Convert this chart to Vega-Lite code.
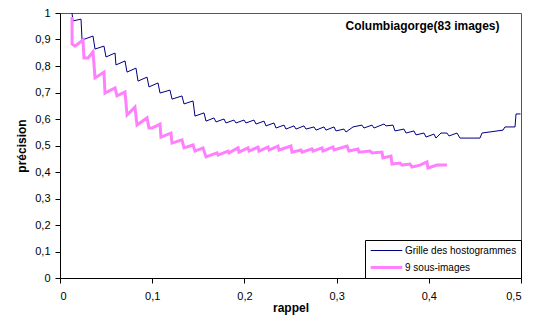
{
  "$schema": "https://vega.github.io/schema/vega-lite/v6.json",
  "width": 461,
  "height": 265,
  "autosize": {"type": "none"},
  "padding": {"left": 60, "top": 13, "right": 23, "bottom": 45},
  "background": "white",
  "title": {
    "text": "Columbiagorge(83 images)",
    "orient": "top",
    "anchor": "end",
    "offset": -26,
    "dx": -22,
    "font": "Liberation Sans",
    "fontSize": 12,
    "fontWeight": "bold",
    "color": "black"
  },
  "config": {
    "view": {"stroke": "#555555", "strokeWidth": 1},
    "font": "Liberation Sans"
  },
  "data": {
    "values": [
      {"serie": "Grille des hostogrammes", "rappel": 0.0130, "precision": 1.000},
      {"serie": "Grille des hostogrammes", "rappel": 0.0141, "precision": 0.970},
      {"serie": "Grille des hostogrammes", "rappel": 0.0228, "precision": 0.977},
      {"serie": "Grille des hostogrammes", "rappel": 0.0239, "precision": 0.898},
      {"serie": "Grille des hostogrammes", "rappel": 0.0358, "precision": 0.913},
      {"serie": "Grille des hostogrammes", "rappel": 0.0380, "precision": 0.864},
      {"serie": "Grille des hostogrammes", "rappel": 0.0477, "precision": 0.875},
      {"serie": "Grille des hostogrammes", "rappel": 0.0499, "precision": 0.834},
      {"serie": "Grille des hostogrammes", "rappel": 0.0597, "precision": 0.849},
      {"serie": "Grille des hostogrammes", "rappel": 0.0607, "precision": 0.804},
      {"serie": "Grille des hostogrammes", "rappel": 0.0705, "precision": 0.819},
      {"serie": "Grille des hostogrammes", "rappel": 0.0727, "precision": 0.777},
      {"serie": "Grille des hostogrammes", "rappel": 0.0824, "precision": 0.792},
      {"serie": "Grille des hostogrammes", "rappel": 0.0846, "precision": 0.743},
      {"serie": "Grille des hostogrammes", "rappel": 0.0944, "precision": 0.758},
      {"serie": "Grille des hostogrammes", "rappel": 0.0965, "precision": 0.721},
      {"serie": "Grille des hostogrammes", "rappel": 0.1063, "precision": 0.736},
      {"serie": "Grille des hostogrammes", "rappel": 0.1085, "precision": 0.698},
      {"serie": "Grille des hostogrammes", "rappel": 0.1193, "precision": 0.709},
      {"serie": "Grille des hostogrammes", "rappel": 0.1215, "precision": 0.675},
      {"serie": "Grille des hostogrammes", "rappel": 0.1323, "precision": 0.687},
      {"serie": "Grille des hostogrammes", "rappel": 0.1345, "precision": 0.657},
      {"serie": "Grille des hostogrammes", "rappel": 0.1443, "precision": 0.668},
      {"serie": "Grille des hostogrammes", "rappel": 0.1464, "precision": 0.611},
      {"serie": "Grille des hostogrammes", "rappel": 0.1562, "precision": 0.623},
      {"serie": "Grille des hostogrammes", "rappel": 0.1584, "precision": 0.592},
      {"serie": "Grille des hostogrammes", "rappel": 0.1670, "precision": 0.604},
      {"serie": "Grille des hostogrammes", "rappel": 0.1692, "precision": 0.589},
      {"serie": "Grille des hostogrammes", "rappel": 0.1779, "precision": 0.600},
      {"serie": "Grille des hostogrammes", "rappel": 0.1800, "precision": 0.585},
      {"serie": "Grille des hostogrammes", "rappel": 0.1887, "precision": 0.596},
      {"serie": "Grille des hostogrammes", "rappel": 0.1909, "precision": 0.585},
      {"serie": "Grille des hostogrammes", "rappel": 0.1996, "precision": 0.596},
      {"serie": "Grille des hostogrammes", "rappel": 0.2017, "precision": 0.585},
      {"serie": "Grille des hostogrammes", "rappel": 0.2104, "precision": 0.596},
      {"serie": "Grille des hostogrammes", "rappel": 0.2126, "precision": 0.581},
      {"serie": "Grille des hostogrammes", "rappel": 0.2213, "precision": 0.592},
      {"serie": "Grille des hostogrammes", "rappel": 0.2234, "precision": 0.574},
      {"serie": "Grille des hostogrammes", "rappel": 0.2321, "precision": 0.585},
      {"serie": "Grille des hostogrammes", "rappel": 0.2343, "precision": 0.566},
      {"serie": "Grille des hostogrammes", "rappel": 0.2430, "precision": 0.577},
      {"serie": "Grille des hostogrammes", "rappel": 0.2451, "precision": 0.562},
      {"serie": "Grille des hostogrammes", "rappel": 0.2538, "precision": 0.574},
      {"serie": "Grille des hostogrammes", "rappel": 0.2560, "precision": 0.562},
      {"serie": "Grille des hostogrammes", "rappel": 0.2646, "precision": 0.574},
      {"serie": "Grille des hostogrammes", "rappel": 0.2668, "precision": 0.562},
      {"serie": "Grille des hostogrammes", "rappel": 0.2755, "precision": 0.570},
      {"serie": "Grille des hostogrammes", "rappel": 0.2777, "precision": 0.558},
      {"serie": "Grille des hostogrammes", "rappel": 0.2863, "precision": 0.570},
      {"serie": "Grille des hostogrammes", "rappel": 0.2885, "precision": 0.558},
      {"serie": "Grille des hostogrammes", "rappel": 0.2972, "precision": 0.570},
      {"serie": "Grille des hostogrammes", "rappel": 0.2993, "precision": 0.555},
      {"serie": "Grille des hostogrammes", "rappel": 0.3080, "precision": 0.562},
      {"serie": "Grille des hostogrammes", "rappel": 0.3102, "precision": 0.551},
      {"serie": "Grille des hostogrammes", "rappel": 0.3178, "precision": 0.570},
      {"serie": "Grille des hostogrammes", "rappel": 0.3275, "precision": 0.577},
      {"serie": "Grille des hostogrammes", "rappel": 0.3297, "precision": 0.566},
      {"serie": "Grille des hostogrammes", "rappel": 0.3384, "precision": 0.577},
      {"serie": "Grille des hostogrammes", "rappel": 0.3406, "precision": 0.566},
      {"serie": "Grille des hostogrammes", "rappel": 0.3514, "precision": 0.581},
      {"serie": "Grille des hostogrammes", "rappel": 0.3536, "precision": 0.574},
      {"serie": "Grille des hostogrammes", "rappel": 0.3612, "precision": 0.577},
      {"serie": "Grille des hostogrammes", "rappel": 0.3633, "precision": 0.555},
      {"serie": "Grille des hostogrammes", "rappel": 0.3731, "precision": 0.562},
      {"serie": "Grille des hostogrammes", "rappel": 0.3753, "precision": 0.547},
      {"serie": "Grille des hostogrammes", "rappel": 0.3839, "precision": 0.555},
      {"serie": "Grille des hostogrammes", "rappel": 0.3861, "precision": 0.540},
      {"serie": "Grille des hostogrammes", "rappel": 0.3948, "precision": 0.547},
      {"serie": "Grille des hostogrammes", "rappel": 0.3970, "precision": 0.532},
      {"serie": "Grille des hostogrammes", "rappel": 0.4056, "precision": 0.543},
      {"serie": "Grille des hostogrammes", "rappel": 0.4078, "precision": 0.528},
      {"serie": "Grille des hostogrammes", "rappel": 0.4132, "precision": 0.547},
      {"serie": "Grille des hostogrammes", "rappel": 0.4197, "precision": 0.547},
      {"serie": "Grille des hostogrammes", "rappel": 0.4219, "precision": 0.536},
      {"serie": "Grille des hostogrammes", "rappel": 0.4306, "precision": 0.547},
      {"serie": "Grille des hostogrammes", "rappel": 0.4338, "precision": 0.528},
      {"serie": "Grille des hostogrammes", "rappel": 0.4555, "precision": 0.528},
      {"serie": "Grille des hostogrammes", "rappel": 0.4577, "precision": 0.547},
      {"serie": "Grille des hostogrammes", "rappel": 0.4805, "precision": 0.558},
      {"serie": "Grille des hostogrammes", "rappel": 0.4826, "precision": 0.570},
      {"serie": "Grille des hostogrammes", "rappel": 0.4935, "precision": 0.570},
      {"serie": "Grille des hostogrammes", "rappel": 0.4946, "precision": 0.619},
      {"serie": "Grille des hostogrammes", "rappel": 0.4995, "precision": 0.619},
      {"serie": "9 sous-images", "rappel": 0.0130, "precision": 0.985},
      {"serie": "9 sous-images", "rappel": 0.0131, "precision": 0.883},
      {"serie": "9 sous-images", "rappel": 0.0163, "precision": 0.875},
      {"serie": "9 sous-images", "rappel": 0.0249, "precision": 0.898},
      {"serie": "9 sous-images", "rappel": 0.0260, "precision": 0.830},
      {"serie": "9 sous-images", "rappel": 0.0304, "precision": 0.830},
      {"serie": "9 sous-images", "rappel": 0.0358, "precision": 0.853},
      {"serie": "9 sous-images", "rappel": 0.0380, "precision": 0.755},
      {"serie": "9 sous-images", "rappel": 0.0477, "precision": 0.777},
      {"serie": "9 sous-images", "rappel": 0.0488, "precision": 0.698},
      {"serie": "9 sous-images", "rappel": 0.0597, "precision": 0.717},
      {"serie": "9 sous-images", "rappel": 0.0618, "precision": 0.687},
      {"serie": "9 sous-images", "rappel": 0.0705, "precision": 0.702},
      {"serie": "9 sous-images", "rappel": 0.0727, "precision": 0.615},
      {"serie": "9 sous-images", "rappel": 0.0813, "precision": 0.645},
      {"serie": "9 sous-images", "rappel": 0.0835, "precision": 0.577},
      {"serie": "9 sous-images", "rappel": 0.0944, "precision": 0.604},
      {"serie": "9 sous-images", "rappel": 0.0965, "precision": 0.566},
      {"serie": "9 sous-images", "rappel": 0.0998, "precision": 0.566},
      {"serie": "9 sous-images", "rappel": 0.1085, "precision": 0.581},
      {"serie": "9 sous-images", "rappel": 0.1095, "precision": 0.532},
      {"serie": "9 sous-images", "rappel": 0.1204, "precision": 0.547},
      {"serie": "9 sous-images", "rappel": 0.1215, "precision": 0.509},
      {"serie": "9 sous-images", "rappel": 0.1323, "precision": 0.521},
      {"serie": "9 sous-images", "rappel": 0.1345, "precision": 0.491},
      {"serie": "9 sous-images", "rappel": 0.1443, "precision": 0.502},
      {"serie": "9 sous-images", "rappel": 0.1464, "precision": 0.479},
      {"serie": "9 sous-images", "rappel": 0.1551, "precision": 0.491},
      {"serie": "9 sous-images", "rappel": 0.1584, "precision": 0.457},
      {"serie": "9 sous-images", "rappel": 0.1703, "precision": 0.472},
      {"serie": "9 sous-images", "rappel": 0.1714, "precision": 0.464},
      {"serie": "9 sous-images", "rappel": 0.1822, "precision": 0.479},
      {"serie": "9 sous-images", "rappel": 0.1833, "precision": 0.472},
      {"serie": "9 sous-images", "rappel": 0.1931, "precision": 0.491},
      {"serie": "9 sous-images", "rappel": 0.1941, "precision": 0.475},
      {"serie": "9 sous-images", "rappel": 0.2039, "precision": 0.491},
      {"serie": "9 sous-images", "rappel": 0.2050, "precision": 0.479},
      {"serie": "9 sous-images", "rappel": 0.2148, "precision": 0.494},
      {"serie": "9 sous-images", "rappel": 0.2158, "precision": 0.479},
      {"serie": "9 sous-images", "rappel": 0.2256, "precision": 0.494},
      {"serie": "9 sous-images", "rappel": 0.2267, "precision": 0.483},
      {"serie": "9 sous-images", "rappel": 0.2364, "precision": 0.498},
      {"serie": "9 sous-images", "rappel": 0.2375, "precision": 0.483},
      {"serie": "9 sous-images", "rappel": 0.2505, "precision": 0.498},
      {"serie": "9 sous-images", "rappel": 0.2516, "precision": 0.475},
      {"serie": "9 sous-images", "rappel": 0.2614, "precision": 0.483},
      {"serie": "9 sous-images", "rappel": 0.2625, "precision": 0.475},
      {"serie": "9 sous-images", "rappel": 0.2733, "precision": 0.487},
      {"serie": "9 sous-images", "rappel": 0.2744, "precision": 0.479},
      {"serie": "9 sous-images", "rappel": 0.2842, "precision": 0.491},
      {"serie": "9 sous-images", "rappel": 0.2852, "precision": 0.479},
      {"serie": "9 sous-images", "rappel": 0.2961, "precision": 0.494},
      {"serie": "9 sous-images", "rappel": 0.2972, "precision": 0.483},
      {"serie": "9 sous-images", "rappel": 0.3113, "precision": 0.498},
      {"serie": "9 sous-images", "rappel": 0.3134, "precision": 0.479},
      {"serie": "9 sous-images", "rappel": 0.3232, "precision": 0.487},
      {"serie": "9 sous-images", "rappel": 0.3243, "precision": 0.475},
      {"serie": "9 sous-images", "rappel": 0.3362, "precision": 0.479},
      {"serie": "9 sous-images", "rappel": 0.3384, "precision": 0.472},
      {"serie": "9 sous-images", "rappel": 0.3492, "precision": 0.475},
      {"serie": "9 sous-images", "rappel": 0.3503, "precision": 0.453},
      {"serie": "9 sous-images", "rappel": 0.3590, "precision": 0.460},
      {"serie": "9 sous-images", "rappel": 0.3601, "precision": 0.430},
      {"serie": "9 sous-images", "rappel": 0.3688, "precision": 0.434},
      {"serie": "9 sous-images", "rappel": 0.3709, "precision": 0.426},
      {"serie": "9 sous-images", "rappel": 0.3796, "precision": 0.430},
      {"serie": "9 sous-images", "rappel": 0.3818, "precision": 0.419},
      {"serie": "9 sous-images", "rappel": 0.3905, "precision": 0.426},
      {"serie": "9 sous-images", "rappel": 0.3980, "precision": 0.438},
      {"serie": "9 sous-images", "rappel": 0.3991, "precision": 0.415},
      {"serie": "9 sous-images", "rappel": 0.4089, "precision": 0.426},
      {"serie": "9 sous-images", "rappel": 0.4197, "precision": 0.426}
    ]
  },
  "mark": {"type": "line", "clip": true},
  "encoding": {
    "x": {
      "field": "rappel",
      "type": "quantitative",
      "scale": {"domain": [0, 0.5], "nice": false, "zero": false},
      "title": "rappel",
      "axis": {
        "values": [0, 0.1, 0.2, 0.3, 0.4, 0.5],
        "labelExpr": "replace(format(datum.value, '~g'), '.', ',')",
        "labelOverlap": false,
        "grid": false,
        "domainColor": "black",
        "tickColor": "black",
        "tickSize": 5,
        "labelPadding": 7,
        "labelFont": "Liberation Sans",
        "labelFontSize": 11,
        "labelColor": "black",
        "titleFont": "Liberation Sans",
        "titleFontSize": 12,
        "titleFontWeight": "bold",
        "titleColor": "black",
        "titlePadding": 1
      }
    },
    "y": {
      "field": "precision",
      "type": "quantitative",
      "scale": {"domain": [0, 1], "nice": false},
      "title": "précision",
      "axis": {
        "values": [0, 0.1, 0.2, 0.3, 0.4, 0.5, 0.6, 0.7, 0.8, 0.9, 1],
        "labelExpr": "replace(format(datum.value, '~g'), '.', ',')",
        "labelOverlap": false,
        "grid": false,
        "domainColor": "black",
        "tickColor": "black",
        "tickSize": 5,
        "labelPadding": 5,
        "labelFont": "Liberation Sans",
        "labelFontSize": 11,
        "labelColor": "black",
        "titleFont": "Liberation Sans",
        "titleFontSize": 12,
        "titleFontWeight": "bold",
        "titleColor": "black",
        "titlePadding": 6
      }
    },
    "color": {
      "field": "serie",
      "type": "nominal",
      "scale": {"domain": ["Grille des hostogrammes", "9 sous-images"], "range": ["#000080", "#FF80FF"]},
      "legend": {
        "title": null,
        "orient": "bottom-right",
        "offset": 0,
        "padding": 4,
        "strokeColor": "black",
        "fillColor": "white",
        "symbolType": "stroke",
        "symbolSize": 1000,
        "clipHeight": 13,
        "labelFont": "Liberation Sans",
        "labelFontSize": 10,
        "labelColor": "black",
        "labelOffset": 1,
        "labelLimit": 300,
        "rowPadding": 4
      }
    },
    "strokeWidth": {
      "field": "serie",
      "type": "nominal",
      "scale": {"domain": ["Grille des hostogrammes", "9 sous-images"], "range": [1, 3]},
      "legend": {
        "title": null,
        "orient": "bottom-right",
        "offset": 0,
        "padding": 4,
        "strokeColor": "black",
        "fillColor": "white",
        "symbolType": "stroke",
        "symbolSize": 1000,
        "clipHeight": 13,
        "labelFont": "Liberation Sans",
        "labelFontSize": 10,
        "labelColor": "black",
        "labelOffset": 1,
        "labelLimit": 300,
        "rowPadding": 4
      }
    }
  }
}
